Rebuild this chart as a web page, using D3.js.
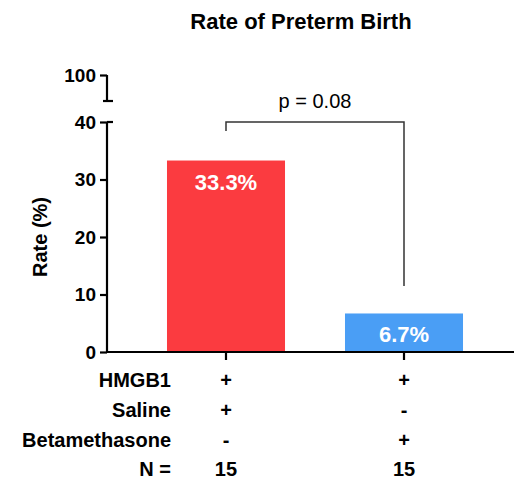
<!DOCTYPE html>
<html>
<head>
<meta charset="utf-8">
<script src="https://cdnjs.cloudflare.com/ajax/libs/d3/7.8.5/d3.min.js"></script>
<style>
  body { margin: 0; background: #fff; }
  text { font-family: "Liberation Sans", Arial, sans-serif; }
</style>
</head>
<body>
<div id="chart"></div>
<script>
var groups = ["g1", "g2"];
var rates = [33.3, 6.7];
var barLabels = ["33.3%", "6.7%"];
var barColors = ["#fb3b40", "#4a9ef5"];
var rowNames = ["HMGB1", "Saline", "Betamethasone", "N ="];
var rowValues = [["+", "+"], ["+", "-"], ["-", "+"], ["15", "15"]];
var lowerTicks = [0, 10, 20, 30, 40];
var upperTicks = [100];
var pText = "p = 0.08";

var W = 531, H = 480;
var svg = d3.select("#chart").append("svg").attr("width", W).attr("height", H);

var x = d3.scaleBand().domain(groups).range([107, 523]).paddingInner(0.337).paddingOuter(0.337);
var y = d3.scaleLinear().domain([0, 40]).range([352, 122]);
var yTop = d3.scaleLinear().domain([90, 100]).range([101, 75]);

svg.append("text")
  .attr("x", 301).attr("y", 29)
  .attr("text-anchor", "middle")
  .style("font-size", "22px").style("font-weight", "bold")
  .text("Rate of Preterm Birth");

// bars
svg.selectAll(".bar")
  .data(rates)
  .enter().append("rect")
  .attr("x", function(d, i){ return x(groups[i]) })
  .attr("width", x.bandwidth())
  .attr("y", function(d){ return y(d) })
  .attr("height", function(d){ return y(0) - y(d) })
  .attr("fill", function(d, i){ return barColors[i] });

svg.selectAll(".barLabel")
  .data(rates)
  .enter().append("text")
  .attr("x", function(d, i){ return x(groups[i]) + x.bandwidth()/2 })
  .attr("y", function(d){ return y(d) + 29 })
  .attr("text-anchor", "middle")
  .attr("fill", "#fff")
  .style("font-size", "22px").style("font-weight", "bold")
  .text(function(d, i){ return barLabels[i] });

// y axes
var gy = svg.append("g").attr("transform", "translate(107,0)")
  .call(d3.axisLeft(y).tickValues(lowerTicks).tickSize(7).tickPadding(4));
var gyt = svg.append("g").attr("transform", "translate(107,0)")
  .call(d3.axisLeft(yTop).tickValues(upperTicks).tickSize(7).tickPadding(4).tickSizeOuter(0));
[gy, gyt].forEach(function(g){
  g.select(".domain").remove();
  g.selectAll(".tick line").attr("stroke", "#000").attr("stroke-width", 2.2);
  g.selectAll(".tick text").attr("fill", "#000")
    .style("font-size", "19px").style("font-weight", "bold").style("font-family", "Liberation Sans, Arial, sans-serif");
});
gy.append("line").attr("y1", y(40)).attr("y2", y(0)).attr("stroke", "#000").attr("stroke-width", 2.2);
gyt.append("line").attr("y1", yTop(100)).attr("y2", yTop(90)).attr("stroke", "#000").attr("stroke-width", 2.2);
// break caps
gyt.append("line").attr("x1", -4).attr("x2", 6).attr("y1", yTop(90)).attr("y2", yTop(90)).attr("stroke", "#000").attr("stroke-width", 2.2);
gy.append("line").attr("x1", 0).attr("x2", 6).attr("y1", y(40)).attr("y2", y(40)).attr("stroke", "#000").attr("stroke-width", 2.2);

svg.append("text")
  .attr("transform", "translate(47," + ((y(0) + y(40))/2) + ") rotate(-90)")
  .attr("text-anchor", "middle")
  .style("font-size", "20px").style("font-weight", "bold")
  .text("Rate (%)");

// x axis
var gx = svg.append("g").attr("transform", "translate(0," + y(0) + ")")
  .call(d3.axisBottom(x).tickSize(8).tickSizeOuter(0).tickFormat(""));
gx.select(".domain").attr("stroke", "#000").attr("stroke-width", 2.2)
  .attr("d", "M107,0H514");
gx.selectAll(".tick line").attr("stroke", "#000").attr("stroke-width", 2.2);

// significance bracket
var bx1 = x(groups[0]) + x.bandwidth()/2, bx2 = x(groups[1]) + x.bandwidth()/2;
svg.append("path")
  .attr("d", "M" + bx1 + "," + (y(40) + 9) + "V" + y(40) + "H" + bx2 + "V" + y(11.5))
  .attr("fill", "none").attr("stroke", "#333").attr("stroke-width", 1.5);
svg.append("text")
  .attr("x", (bx1 + bx2)/2).attr("y", 108)
  .attr("text-anchor", "middle")
  .style("font-size", "20px")
  .text(pText);

// condition table
var rowY = [387, 417, 447, 476];
rowNames.forEach(function(name, r){
  svg.append("text")
    .attr("x", 171).attr("y", rowY[r])
    .attr("text-anchor", "end")
    .style("font-size", "20px").style("font-weight", "bold")
    .text(name);
  rowValues[r].forEach(function(v, i){
    svg.append("text")
      .attr("x", x(groups[i]) + x.bandwidth()/2).attr("y", rowY[r])
      .attr("text-anchor", "middle")
      .style("font-size", "20px").style("font-weight", "bold")
      .text(v);
  });
});
</script>
</body>
</html>
